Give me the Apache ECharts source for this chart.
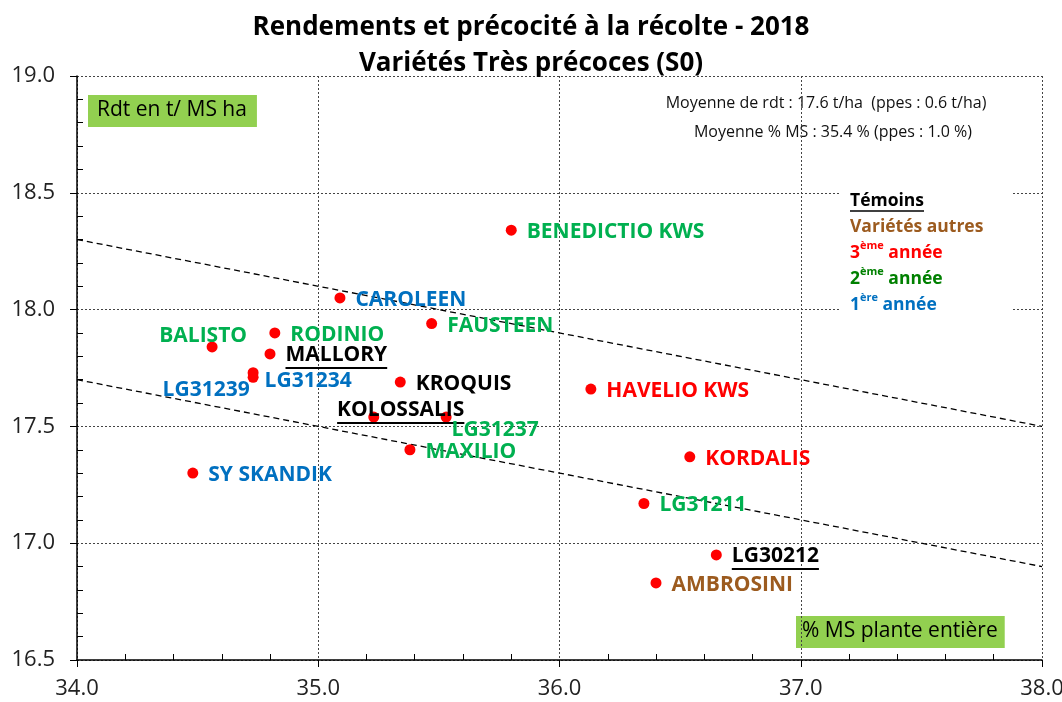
<!DOCTYPE html>
<html lang="fr">
<head>
    <meta charset="UTF-8">
    <title>Rendements et précocité à la récolte - 2018</title>
    <script src="https://cdn.jsdelivr.net/npm/echarts@6.0.0/dist/echarts.min.js"></script>
    <style>
        * { margin: 0; padding: 0; box-sizing: border-box; }
        body { background: #fff; }
        #chart { width: 1062px; height: 702px; }
    </style>
</head>
<body>
    <div id="chart"></div>

    <script>
        // données
        const names = ['BENEDICTIO KWS', 'CAROLEEN', 'FAUSTEEN', 'RODINIO', 'BALISTO', 'MALLORY',
            'LG31234', 'LG31239', 'KROQUIS', 'HAVELIO KWS', 'KOLOSSALIS', 'LG31237',
            'MAXILIO', 'SY SKANDIK', 'KORDALIS', 'LG31211', 'LG30212', 'AMBROSINI'];
        const msPct = [35.80, 35.09, 35.47, 34.82, 34.56, 34.80,
            34.73, 34.73, 35.34, 36.13, 35.23, 35.53,
            35.38, 34.48, 36.54, 36.35, 36.65, 36.40];
        const rdt = [18.34, 18.05, 17.94, 17.90, 17.84, 17.81,
            17.73, 17.71, 17.69, 17.66, 17.54, 17.54,
            17.40, 17.30, 17.37, 17.17, 16.95, 16.83];
        // T = témoin, N = noir, A = autre, 3/2/1 = année d'essai
        const groups = ['2', '1', '2', '2', '2', 'T',
            '1', '1', 'N', '3', 'T', '2',
            '2', '1', '3', '2', 'T', 'A'];

        const upperLine = [[34, 18.3], [38, 17.5]];
        const lowerLine = [[34, 17.7], [38, 16.9]];

        const xTicks = { min: 34, max: 38, step: 1 };
        const yTicks = { min: 16.5, max: 19, step: 0.5 };

        const groupColor = { T: '#000000', N: '#000000', A: '#9c5b1f', '3': '#ff0000', '2': '#00b050', '1': '#0070c0' };

        // étiquettes déplacées (décalage par rapport au point)
        const labelShift = {
            'BALISTO': [-9, -11],
            'LG31239': [-47, 13],
            'KOLOSSALIS': [27, -6],
            'LG31237': [49, 13],
            'LG31234': [55, 8]
        };

        const FONT = '"Open Sans", "DejaVu Sans", sans-serif';
        const LABEL_SIZE = 21;

        const ctx = document.createElement('canvas').getContext('2d');
        const textWidth = (t, f) => { ctx.font = f; return ctx.measureText(t).width; };

        const points = names.map(function (n, i) {
            const underline = groups[i] === 'T';
            const shift = labelShift[n];
            const color = groupColor[groups[i]];
            const label = {
                show: true,
                formatter: '{b}',
                color: color,
                fontFamily: FONT,
                fontWeight: 'bold',
                fontSize: LABEL_SIZE,
                position: shift ? 'inside' : 'right',
                distance: 10,
                offset: shift || [0, 2]
            };
            if (underline) {
                label.formatter = '{n|' + n + '}\n{u| }';
                label.rich = {
                    n: { color: color, fontFamily: FONT, fontWeight: 'bold', fontSize: LABEL_SIZE, lineHeight: 24 },
                    u: {
                        width: textWidth(n, 'bold ' + LABEL_SIZE + 'px "Open Sans"'),
                        height: 2, lineHeight: 2, fontSize: 1, backgroundColor: '#000'
                    }
                };
            }
            return { name: n, value: [msPct[i], rdt[i]], label: label };
        });

        const chart = echarts.init(document.getElementById('chart'));

        const option = {
            backgroundColor: '#fff',
            animation: false,
            title: {
                text: 'Rendements et précocité à la récolte - 2018\nVariétés Très précoces (S0)',
                left: 'center',
                top: 5,
                textStyle: {
                    fontFamily: FONT,
                    fontWeight: 'bold',
                    fontSize: 26,
                    lineHeight: 36,
                    color: '#000'
                }
            },
            grid: { left: 77, right: 20, top: 76, bottom: 42, outerBoundsMode: 'none' },
            xAxis: {
                type: 'value',
                min: xTicks.min,
                max: xTicks.max,
                interval: xTicks.step,
                axisLine: { show: true, onZero: false, lineStyle: { color: '#000', width: 1.5 } },
                axisTick: { show: true, inside: false, length: 7, lineStyle: { color: '#000' } },
                minorTick: { show: true, splitNumber: 5, length: -6, lineStyle: { color: '#000' } },
                splitLine: { show: true, lineStyle: { color: '#444', type: [2, 2], width: 1 } },
                axisLabel: {
                    fontFamily: FONT, fontSize: 22, color: '#222', margin: 18,
                    formatter: (v) => v.toFixed(1)
                }
            },
            yAxis: {
                type: 'value',
                min: yTicks.min,
                max: yTicks.max,
                interval: yTicks.step,
                axisLine: { show: true, onZero: false, lineStyle: { color: '#000', width: 1.5 } },
                axisTick: { show: true, inside: false, length: 7, lineStyle: { color: '#000' } },
                minorTick: { show: true, splitNumber: 5, length: -6, lineStyle: { color: '#000' } },
                splitLine: { show: true, lineStyle: { color: '#444', type: [2, 2], width: 1 } },
                axisLabel: {
                    fontFamily: FONT, fontSize: 22, color: '#222', margin: 22,
                    formatter: (v) => v.toFixed(1)
                }
            },
            series: [
                {
                    type: 'line',
                    data: upperLine,
                    symbol: 'none',
                    silent: true,
                    lineStyle: { color: '#000', width: 1.3, type: [6, 4] }
                },
                {
                    type: 'line',
                    data: lowerLine,
                    symbol: 'none',
                    silent: true,
                    lineStyle: { color: '#000', width: 1.3, type: [6, 4] }
                },
                {
                    type: 'scatter',
                    data: points,
                    symbolSize: 11,
                    itemStyle: { color: '#ff0000', opacity: 1 },
                    z: 5
                }
            ],
            graphic: [
                {
                    type: 'text', left: 88, top: 95,
                    style: {
                        text: 'Rdt en t/ MS ha', fontFamily: FONT, fontSize: 21, fill: '#000',
                        backgroundColor: '#92d050', padding: [5, 10, 6, 9]
                    }
                },
                {
                    type: 'text', left: 796, top: 616,
                    style: {
                        text: '% MS plante entière', fontFamily: FONT, fontSize: 21, fill: '#000',
                        backgroundColor: '#92d050', padding: [5, 7, 6, 6]
                    }
                },
                {
                    type: 'text', x: 826, y: 103,
                    style: {
                        text: 'Moyenne de rdt : 17.6 t/ha  (ppes : 0.6 t/ha)', fontFamily: FONT, fontSize: 16,
                        fill: '#111', align: 'center', verticalAlign: 'middle'
                    }
                },
                {
                    type: 'text', x: 833, y: 132,
                    style: {
                        text: 'Moyenne % MS : 35.4 % (ppes : 1.0 %)', fontFamily: FONT, fontSize: 16,
                        fill: '#111', align: 'center', verticalAlign: 'middle'
                    }
                },
                {
                    type: 'rect', shape: { x: 840, y: 184, width: 172, height: 134 },
                    style: { fill: '#fff' }, z: 50
                },
                {
                    type: 'text', x: 850, y: 188, z: 51,
                    style: {
                        text: '{u|Témoins}\n{b|Variétés autres}\n{r|3}{rs|ème}{r| année}\n{g|2}{gs|ème}{g| année}\n{l|1}{ls|ère}{l| année}',
                        rich: {
                            u: { fontFamily: FONT, fontWeight: 'bold', fontSize: 17.5, lineHeight: 26, fill: '#000' },
                            b: { fontFamily: FONT, fontWeight: 'bold', fontSize: 17.5, lineHeight: 26, fill: '#9c5b1f' },
                            r: { fontFamily: FONT, fontWeight: 'bold', fontSize: 17.5, lineHeight: 26, fill: '#ff0000' },
                            rs: { fontFamily: FONT, fontWeight: 'bold', fontSize: 11, lineHeight: 13, verticalAlign: 'top', fill: '#ff0000' },
                            g: { fontFamily: FONT, fontWeight: 'bold', fontSize: 17.5, lineHeight: 26, fill: '#008000' },
                            gs: { fontFamily: FONT, fontWeight: 'bold', fontSize: 11, lineHeight: 13, verticalAlign: 'top', fill: '#008000' },
                            l: { fontFamily: FONT, fontWeight: 'bold', fontSize: 17.5, lineHeight: 26, fill: '#0070c0' },
                            ls: { fontFamily: FONT, fontWeight: 'bold', fontSize: 11, lineHeight: 13, verticalAlign: 'top', fill: '#0070c0' }
                        }
                    }
                },
                {
                    type: 'line', z: 51,
                    shape: { x1: 850, y1: 211, x2: 850 + textWidth('Témoins', 'bold 17.5px "Open Sans"'), y2: 211 },
                    style: { stroke: '#000', lineWidth: 1.5 }
                }
            ]
        };

        chart.setOption(option);
    </script>
</body>
</html>
